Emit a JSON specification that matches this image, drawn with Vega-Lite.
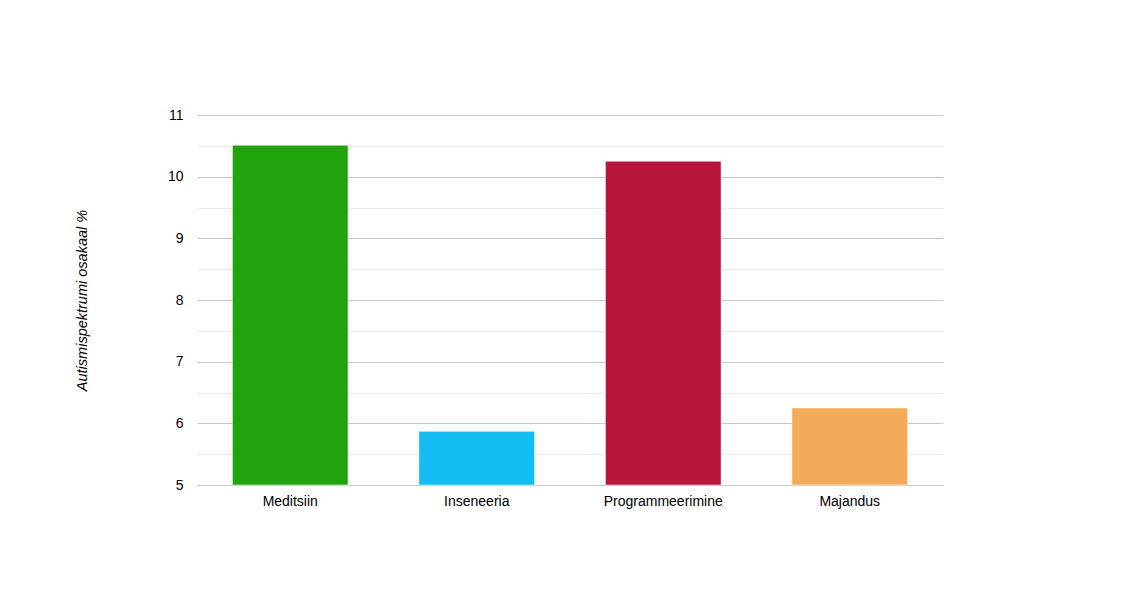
{
  "$schema": "https://vega.github.io/schema/vega-lite/v6.json",
  "width": 746,
  "height": 370,
  "autosize": {"type": "none"},
  "padding": {"left": 197, "top": 115, "right": 197, "bottom": 115},
  "background": "white",
  "config": {
    "view": {"stroke": null},
    "font": "Liberation Sans"
  },
  "data": {
    "values": [
      {"valdkond": "Meditsiin", "osakaal": 10.51},
      {"valdkond": "Inseneeria", "osakaal": 5.87},
      {"valdkond": "Programmeerimine", "osakaal": 10.25},
      {"valdkond": "Majandus", "osakaal": 6.25}
    ]
  },
  "mark": {"type": "bar", "strokeWidth": 1, "stroke": "white", "strokeOpacity": 0.5},
  "encoding": {
    "x": {
      "field": "valdkond",
      "type": "nominal",
      "sort": null,
      "scale": {"paddingInner": 0.38, "paddingOuter": 0.19},
      "axis": {
        "title": null,
        "labelAngle": 0,
        "domain": false,
        "ticks": false,
        "labelPadding": 9,
        "labelFontSize": 14,
        "labelColor": "#000000"
      }
    },
    "y": {
      "field": "osakaal",
      "type": "quantitative",
      "scale": {"domain": [5, 11], "nice": false, "zero": false},
      "axis": {
        "title": "Autismispektrumi osakaal %",
        "titleFontStyle": "italic",
        "titleFontWeight": "normal",
        "titleFontSize": 14.5,
        "titleColor": "#000000",
        "titlePadding": 78,
        "values": [5, 5.5, 6, 6.5, 7, 7.5, 8, 8.5, 9, 9.5, 10, 10.5, 11],
        "labelExpr": "datum.value % 1 === 0 ? format(datum.value, 'd') : ''",
        "labelFontSize": 14,
        "labelColor": "#000000",
        "labelPadding": 14,
        "domain": false,
        "ticks": false,
        "gridColor": {"condition": {"test": "datum.value % 1 === 0", "value": "#c8c8c8"}, "value": "#ebebeb"},
        "gridOpacity": 1
      }
    },
    "y2": {"datum": 5},
    "color": {
      "field": "valdkond",
      "type": "nominal",
      "scale": {
        "domain": ["Meditsiin", "Inseneeria", "Programmeerimine", "Majandus"],
        "range": ["#21a30d", "#13bdf1", "#b8153a", "#f3ab59"]
      },
      "legend": null
    }
  }
}
